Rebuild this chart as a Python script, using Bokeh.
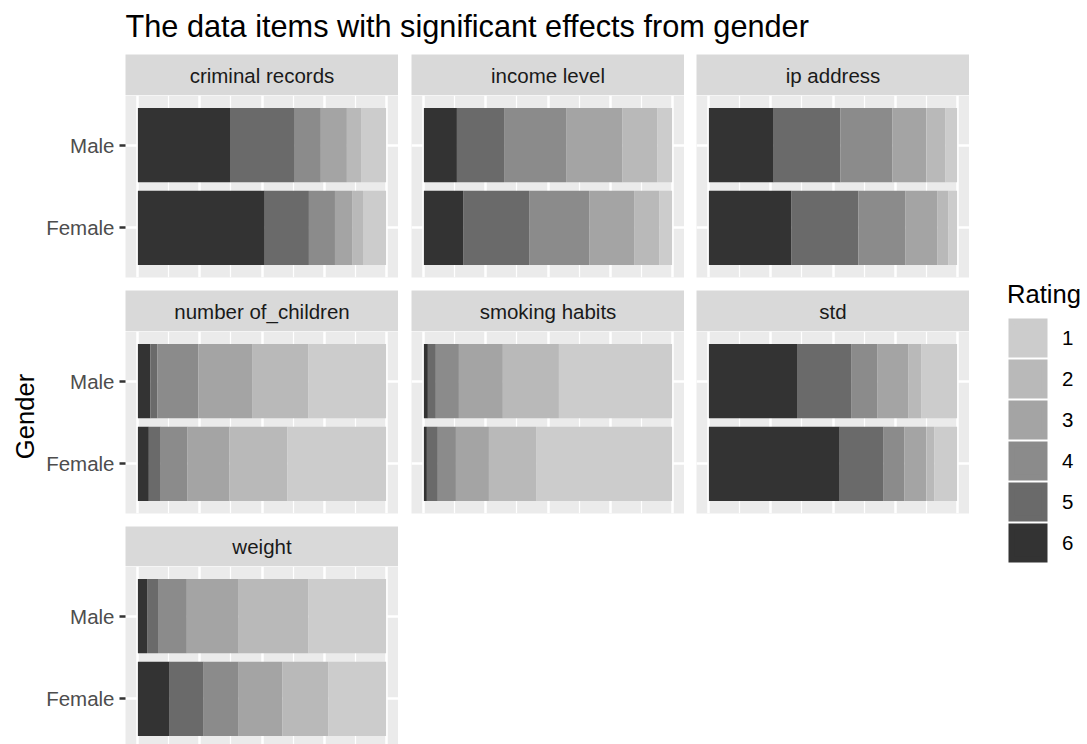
import math
from bokeh.plotting import figure
from bokeh.models import (Range1d, FixedTicker, LinearAxis, ColumnDataSource,
                          Legend, LegendItem, Grid)
from bokeh.layouts import row, column
from bokeh.core.properties import value
from bokeh.embed import file_html
from bokeh.resources import INLINE

# ---------------- data ----------------
title_text = "The data items with significant effects from gender"
y_title = "Gender"
legend_title = "Rating"

facet_items = ["criminal records", "income level", "ip address",
               "number of_children", "smoking habits", "std", "weight"]
gender_levels = ["Female", "Male"]          # bottom -> top
rating_levels = ["1", "2", "3", "4", "5", "6"]
rating_colors = ["#CCCCCC", "#B9B9B9", "#A4A4A4", "#8B8B8B", "#6A6A6A", "#333333"]

# shares of ratings 1..6
criminal_records_male = [0.101, 0.057, 0.105, 0.105, 0.258, 0.374]
criminal_records_female = [0.093, 0.044, 0.069, 0.105, 0.178, 0.511]
income_level_male = [0.060, 0.141, 0.226, 0.250, 0.190, 0.133]
income_level_female = [0.052, 0.101, 0.181, 0.242, 0.266, 0.158]
ip_address_male = [0.048, 0.076, 0.137, 0.209, 0.269, 0.261]
ip_address_female = [0.036, 0.044, 0.129, 0.189, 0.269, 0.333]
number_of_children_male = [0.314, 0.226, 0.217, 0.165, 0.028, 0.050]
number_of_children_female = [0.398, 0.233, 0.169, 0.108, 0.048, 0.044]
smoking_habits_male = [0.456, 0.226, 0.177, 0.093, 0.032, 0.016]
smoking_habits_female = [0.548, 0.190, 0.133, 0.073, 0.044, 0.012]
std_male = [0.145, 0.052, 0.125, 0.105, 0.218, 0.355]
std_female = [0.092, 0.032, 0.088, 0.084, 0.177, 0.527]
weight_male = [0.313, 0.281, 0.209, 0.116, 0.044, 0.037]
weight_female = [0.233, 0.185, 0.176, 0.141, 0.137, 0.128]

x_major_ticks = [0, 0.25, 0.5, 0.75, 1]
x_minor_ticks = [0.125, 0.375, 0.625, 0.875]

item_values = {
    "criminal records": (criminal_records_male, criminal_records_female),
    "income level": (income_level_male, income_level_female),
    "ip address": (ip_address_male, ip_address_female),
    "number of_children": (number_of_children_male, number_of_children_female),
    "smoking habits": (smoking_habits_male, smoking_habits_female),
    "std": (std_male, std_female),
    "weight": (weight_male, weight_female),
}

# ---------------- style ----------------
FONT = "Liberation Sans"
PW = 273
STRIP_H = [41, 41, 40]
PANEL_H = [182, 182, 178]
LEFT_B = [85, 13, 12]
BOTTOM_B = [13, 13, 0]
FULL_H = 182.0
Y_TOP = len(gender_levels) + 0.6


def bare(fig):
    fig.center = [r for r in fig.center if not isinstance(r, Grid)]
    return fig


def new_fig(w, h, **kw):
    opts = dict(frame_width=w, frame_height=h, min_border=0,
                x_axis_location=None, y_axis_location=None,
                outline_line_color=None, toolbar_location=None,
                output_backend="svg", border_fill_color="white")
    opts.update(kw)
    return bare(figure(**opts))


def make_cell(idx):
    r, c = divmod(idx, 3)
    name = facet_items[idx]
    lb = LEFT_B[c]

    strip = new_fig(PW, STRIP_H[r], min_border_left=lb,
                    x_range=Range1d(0, 1), y_range=Range1d(0, 1),
                    background_fill_color="#D9D9D9")
    strip.text(x=[0.5], y=[0.5], text=[name], text_align="center",
               text_baseline="middle", text_font=value(FONT),
               text_font_size="20.5px", text_color="#1A1A1A")

    y_bottom = Y_TOP - PANEL_H[r] * (len(gender_levels) + 0.2) / FULL_H
    p = new_fig(PW, PANEL_H[r], min_border_left=lb,
                min_border_bottom=BOTTOM_B[r],
                x_range=Range1d(-0.05, 1.05),
                y_range=Range1d(y_bottom, Y_TOP),
                background_fill_color="#EBEBEB")
    ypos = [i + 1 for i in range(len(gender_levels))]
    p.add_layout(Grid(dimension=0,
                      ticker=FixedTicker(ticks=x_major_ticks, minor_ticks=x_minor_ticks),
                      grid_line_color="white", grid_line_width=2.5,
                      minor_grid_line_color="white", minor_grid_line_width=1.25), "center")
    p.add_layout(Grid(dimension=1, ticker=FixedTicker(ticks=ypos),
                      grid_line_color="white", grid_line_width=2.5), "center")

    male, female = item_values[name]
    by_gender = {"Male": male, "Female": female}
    data = {"ypos": ypos}
    for k, rt in enumerate(rating_levels):
        data[rt] = [by_gender[g][k] for g in gender_levels]
    src = ColumnDataSource(data)
    stackers = list(reversed(rating_levels))
    cols = list(reversed(rating_colors))
    p.hbar_stack(stackers, y="ypos", height=0.9, fill_color=cols,
                 line_color=None, source=src)

    if c == 0:
        ax = LinearAxis(ticker=FixedTicker(ticks=ypos),
                        major_label_overrides={i + 1: g for i, g in enumerate(gender_levels)})
        ax.axis_line_color = None
        ax.major_tick_line_color = "#333333"
        ax.major_tick_line_width = 2.4
        ax.major_tick_in = 0
        ax.major_tick_out = 6
        ax.minor_tick_line_color = None
        ax.major_label_standoff = 5
        ax.major_label_text_font = FONT
        ax.major_label_text_font_size = "20.5px"
        ax.major_label_text_color = "#4D4D4D"
        p.add_layout(ax, "left")

    return column(strip, p)


cells = [make_cell(i) for i in range(len(facet_items))]
rows = [row(*cells[i:i + 3]) for i in range(0, len(cells), 3)]
grid_col = column(*rows)

# header with title
header = new_fig(1087, 54, x_range=Range1d(0, 1087), y_range=Range1d(54, 0))
header.text(x=[125], y=[26], text=[title_text], text_align="left",
            text_baseline="alphabetic", text_font=value(FONT),
            text_font_size="30.7px", text_color="black")

# left y-axis title
gfig = new_fig(40, 690, x_range=Range1d(0, 40), y_range=Range1d(744, 54))
gfig.text(x=[24.5], y=[416], text=[y_title], angle=math.pi / 2,
          text_align="center", text_baseline="middle", text_font=value(FONT),
          text_font_size="25.6px", text_color="black")

# legend (keys come from hidden renderers carrying each rating's colour)
lfig = new_fig(118, 690, x_range=Range1d(0, 1), y_range=Range1d(0, 1))
legend_src = ColumnDataSource({"rating": [int(rt) for rt in rating_levels],
                               "share": criminal_records_male})
items = []
for k, (rt, colr) in enumerate(zip(rating_levels, rating_colors)):
    rr = lfig.hbar(y="rating", right="share", height=0.9, source=legend_src,
                   fill_color=colr, line_color=colr, line_width=6.2,
                   line_join="miter", visible=False)
    items.append(LegendItem(label=rt, renderers=[rr], index=k))
legend = Legend(items=items, location=(38, 181), title=legend_title,
                glyph_width=41, glyph_height=41, spacing=0, padding=0, margin=0,
                label_standoff=14, label_text_font=FONT, label_text_font_size="20.5px",
                label_text_color="black", label_height=41,
                title_text_font=FONT, title_text_font_size="25.6px",
                title_text_font_style="normal", title_text_color="black",
                title_standoff=8, border_line_color=None, background_fill_alpha=0)
lfig.add_layout(legend, "center")

layout = column(header, row(gfig, grid_col, lfig))

open("out.html", "w").write(file_html(layout, INLINE))
